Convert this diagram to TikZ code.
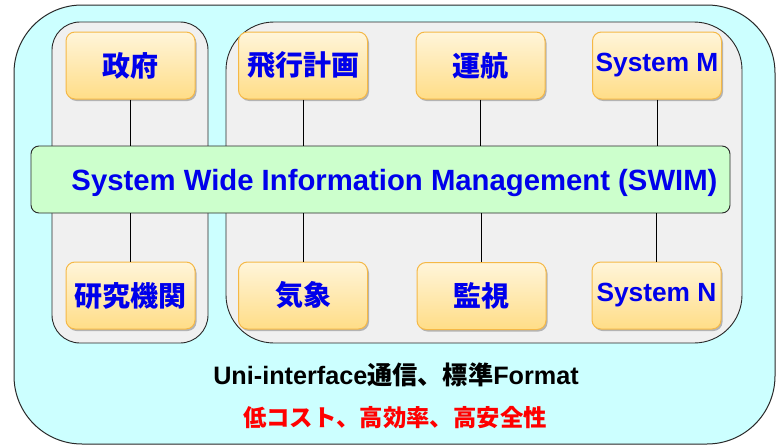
\documentclass[tikz,border=0pt]{standalone}
\usepackage{fontspec}
\setmainfont{Liberation Sans}
\newfontfamily\cjk{Noto Sans CJK JP}
\usetikzlibrary{shadows}
\definecolor{cyanbg}{RGB}{204,255,255}
\definecolor{panelgray}{RGB}{240,240,240}
\definecolor{swimgreen}{RGB}{204,255,204}
\definecolor{otop}{RGB}{255,245,218}
\definecolor{obot}{RGB}{255,221,135}
\definecolor{oborder}{RGB}{245,184,70}
\definecolor{tblue}{RGB}{0,0,235}
\definecolor{edge}{RGB}{40,40,40}
\tikzset{
  outerbox/.style={draw=edge, line width=1pt, fill=cyanbg, rounded corners=68pt},
  panelbox/.style={draw=edge, line width=0.9pt, fill=panelgray},
  obox/.style={draw=oborder, line width=1pt, rounded corners=9pt,
    top color=otop, bottom color=obot, minimum width=129pt, minimum height=67pt,
    inner sep=0pt, text=tblue, font=\bfseries,
    drop shadow={shadow xshift=1.5pt, shadow yshift=-2pt, opacity=0.25, fill=black}},
  swimbox/.style={draw=edge, line width=0.9pt, fill=swimgreen, rounded corners=8pt,
    minimum width=699pt, minimum height=67pt, inner sep=0pt, text=tblue,
    text height=23pt, text depth=2pt,
    font=\fontsize{29.3}{33}\selectfont\bfseries},
  link/.style={draw=black, line width=0.7pt},
  jp/.style={font=\fontsize{28}{32}\selectfont\cjk\bfseries},
  lat/.style={font=\fontsize{26.3}{30}\selectfont\bfseries}
}
\begin{document}
\begin{tikzpicture}[x=1pt,y=-1pt]
\useasboundingbox (0,0) rectangle (779,447);
\draw[outerbox] (14,5) rectangle (775,444);
\draw[panelbox, rounded corners=28pt] (52,22) rectangle (208,343);
\draw[panelbox, rounded corners=48pt] (226,22) rectangle (742,343);

\node[swimbox] (swim) at (380.5,179.5) {\hspace*{28pt}System Wide Information Management (SWIM)};

\node[obox, jp] (seifu) at (130.5,65.5) {政府};
\node[obox, jp] (hiko) at (303,65.5) {飛行計画};
\node[obox, jp] (unko) at (480.5,65.5) {運航};
\node[obox, lat] (sysm) at (657,65.5) {System M};
\node[obox, jp] (kenkyu) at (130.5,295.5) {研究機関};
\node[obox, jp] (kisho) at (303,295.5) {気象};
\node[obox, jp] (kanshi) at (481.5,296) {監視};
\node[obox, lat] (sysn) at (656.5,295.5) {System N};

\foreach \n in {seifu,hiko,unko,sysm}
  \draw[link] (\n.south) -- (\n.south |- swim.north);
\foreach \n in {kenkyu,kisho,kanshi,sysn}
  \draw[link] (\n.north) -- (\n.north |- swim.south);

\node[font=\fontsize{25.2}{30}\selectfont\bfseries, text=black] (uni) at (396,375)
  {Uni-interface{\cjk 通信、標準}Format};
\node[font=\fontsize{23.4}{28}\selectfont\cjk\bfseries, text=red] (merit) at (395,418)
  {低コスト、高効率、高安全性};
\end{tikzpicture}
\end{document}
